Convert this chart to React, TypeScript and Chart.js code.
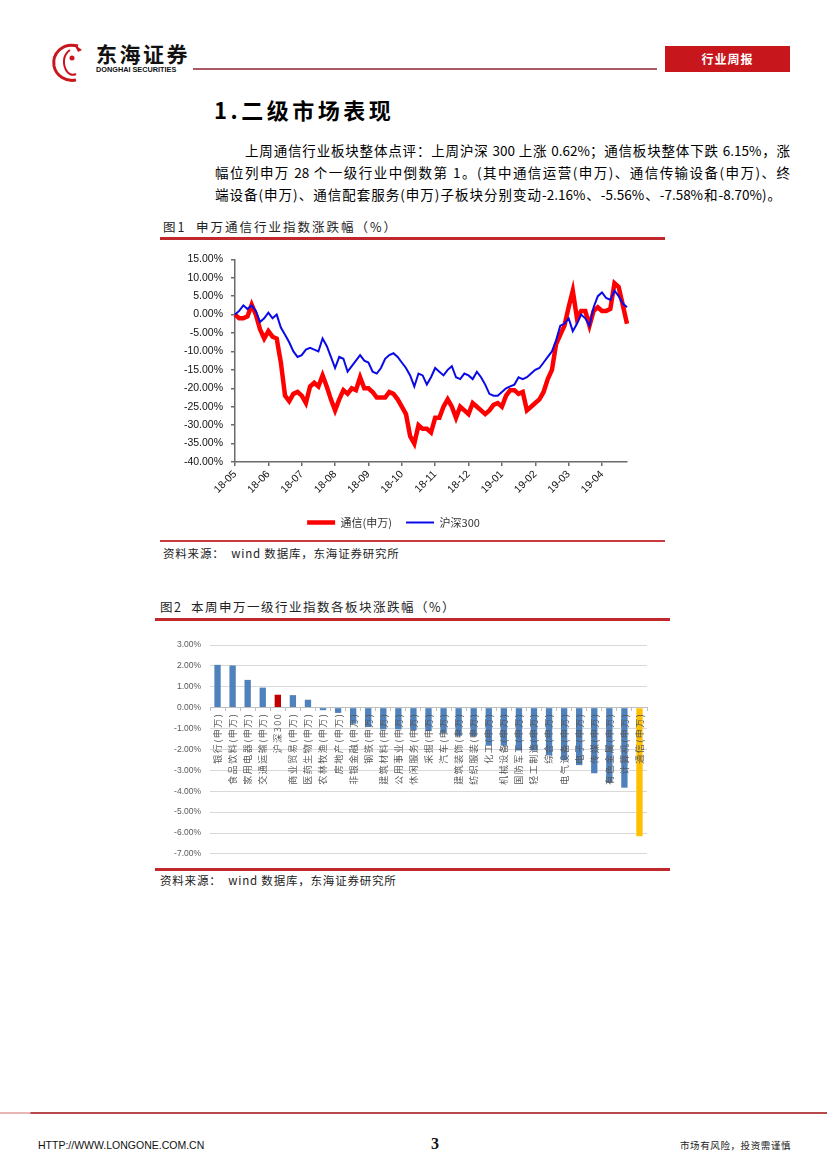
import React, { useEffect, useRef } from 'react';
import { Chart, registerables } from 'chart.js';

Chart.register(...registerables);

// ---------- Figure 1 data ----------
const monthLabels = ['18-05', '18-06', '18-07', '18-08', '18-09', '18-10', '18-11', '18-12', '19-01', '19-02', '19-03', '19-04'];
const pointsPerMonth = 8;

const telecomSeries = [
  0, -1, -1, -0.5, 2.7, 0, -4, -6.5, -4.5, -6,
  -6.5, -13, -22, -23.5, -21.5, -21, -22, -24, -19.5, -18.5,
  -19.5, -16.5, -19.5, -23, -26, -23, -20.5, -21.5, -20, -20.5,
  -17, -20, -20, -21, -22.5, -22.5, -22.5, -21, -21.5, -23,
  -25, -27, -33, -35, -30, -31, -31, -32, -28, -28,
  -25, -23, -25, -28, -25, -26, -27, -24, -25, -26,
  -27, -26, -24.5, -24, -25, -22, -20.5, -20.5, -21.5, -21,
  -26, -25, -24, -23, -21, -17.5, -15, -8, -5.5, -3,
  2, 6.5, -1, 1, 1, -3, 1, 2, 1, 1,
  1.5, 8.5, 7.5, 2.5, -2.5,
];

const hs300Series = [
  0, 1, 2.5, 1.5, 2.5, 1, -2, -1, 0.5, -1,
  0, -3.5, -5.5, -7.5, -10, -11.5, -11, -9.5, -9, -9.5,
  -10, -6.5, -8.5, -11.5, -14.5, -11.5, -12, -15.5, -14, -12.5,
  -11, -12.5, -13, -15.5, -16, -14.5, -12, -11, -10.5, -11.5,
  -13, -14.5, -16.5, -19.5, -16, -16.5, -19, -17, -14.5, -15.5,
  -16.5, -15, -14, -17, -17.5, -16, -16.5, -17.5, -15.5, -17,
  -19, -21.5, -22, -22, -21, -20, -19.5, -19, -17, -17.5,
  -17, -16, -15, -14.5, -13, -11.5, -10, -7, -3, -2.5,
  -1, -4.5, -2.5, 0, -1, -3, 2, 5, 6, 4.5,
  4, 6.5, 5, 3, 2,
];

const lineYTicks = { min: -40, max: 15, step: 5 };

// ---------- Figure 2 data ----------
const industryNames = [
  '银行(申万)', '食品饮料(申万)', '家用电器(申万)', '交通运输(申万)', '沪深300',
  '商业贸易(申万)', '医药生物(申万)', '农林牧渔(申万)', '房地产(申万)', '非银金融(申万)',
  '钢铁(申万)', '建筑材料(申万)', '公用事业(申万)', '休闲服务(申万)', '采掘(申万)',
  '汽车(申万)', '建筑装饰(申万)', '纺织服装(申万)', '化工(申万)', '机械设备(申万)',
  '国防军工(申万)', '轻工制造(申万)', '综合(申万)', '电气设备(申万)', '电子(申万)',
  '传媒(申万)', '有色金属(申万)', '计算机(申万)', '通信(申万)',
];

const weeklyChange = [
  2.05, 2.02, 1.33, 0.96, 0.62,
  0.6, 0.38, -0.12, -0.25, -0.77,
  -0.93, -1.04, -1.04, -1.08, -1.12,
  -1.22, -1.35, -1.38, -1.82, -1.82,
  -2.05, -2.05, -2.28, -2.52, -2.75,
  -3.14, -3.6, -3.83, -6.15,
];

const barYTicks = { min: -7, max: 3, step: 1 };

const CJK = '"Noto Sans CJK SC", "Noto Sans", sans-serif';
const LATIN = '"Liberation Sans", Arial, sans-serif';

function LineFigure() {
  const ref = useRef<HTMLCanvasElement | null>(null);
  useEffect(() => {
    if (!ref.current) return;
    const labels = telecomSeries.map((_, i) =>
      i % pointsPerMonth === 0 && monthLabels[i / pointsPerMonth] ? monthLabels[i / pointsPerMonth] : ''
    );
    const axisColor = '#6b6b6b';
    const chart = new Chart(ref.current, {
      type: 'line',
      data: {
        labels,
        datasets: [
          {
            label: '沪深300',
            data: hs300Series,
            borderColor: '#0a0ae6',
            backgroundColor: '#0a0ae6',
            borderWidth: 2,
            pointRadius: 0,
            tension: 0,
            pointStyle: 'line',
          },
          {
            label: '通信(申万)',
            data: telecomSeries,
            borderColor: '#ff0000',
            backgroundColor: '#ff0000',
            borderWidth: 4.5,
            pointRadius: 0,
            tension: 0,
            pointStyle: 'line',
          },
        ],
      },
      options: {
        animation: false,
        responsive: false,
        maintainAspectRatio: false,
        layout: { padding: { left: 0, right: 38, top: 7, bottom: 2 } },
        plugins: {
          tooltip: { enabled: false },
          legend: {
            position: 'bottom',
            reverse: true,
            labels: {
              usePointStyle: true,
              pointStyleWidth: 28,
              padding: 14,
              color: '#333',
              font: { family: CJK, size: 11 },
            },
          },
        },
        scales: {
          x: {
            type: 'category',
            afterFit: (s: any) => { s.height = 41; },
            grid: {
              display: true,
              drawOnChartArea: false,
              drawTicks: true,
              tickLength: 4,
              color: (ctx: any) => (labels[ctx.index] ? axisColor : 'rgba(0,0,0,0)'),
              tickColor: (ctx: any) => (labels[ctx.index] ? axisColor : 'rgba(0,0,0,0)'),
              lineWidth: 1.5,
            },
            border: { display: true, color: axisColor, width: 1.5 },
            ticks: {
              autoSkip: false,
              minRotation: 45,
              maxRotation: 45,
              padding: 2,
              color: '#111',
              font: { family: LATIN, size: 10.5 },
              callback: (_v: any, i: number) => labels[i],
            },
          },
          y: {
            min: lineYTicks.min,
            max: lineYTicks.max,
            afterFit: (s: any) => { s.width = 75; },
            grid: {
              display: true,
              drawOnChartArea: false,
              drawTicks: true,
              tickLength: 4,
              color: axisColor,
              lineWidth: 1.5,
            },
            border: { display: true, color: axisColor, width: 1.5 },
            ticks: {
              stepSize: lineYTicks.step,
              padding: 8,
              color: '#111',
              font: { family: LATIN, size: 10.5 },
              callback: (v: any) => Number(v).toFixed(2) + '%',
            },
          },
        },
      },
    });
    return () => chart.destroy();
  }, []);
  return <canvas ref={ref} width={505} height={295} style={{ width: 505, height: 295, display: 'block' }} />;
}

// widen the spacing of the rotated category labels (drawn after the bars)
const labelSpacingPlugin = {
  id: 'labelSpacing',
  afterDatasetsDraw(chart: any) {
    (chart.ctx as any).letterSpacing = '1.5px';
  },
  afterDraw(chart: any) {
    (chart.ctx as any).letterSpacing = '0px';
  },
};

function BarFigure() {
  const ref = useRef<HTMLCanvasElement | null>(null);
  useEffect(() => {
    if (!ref.current) return;
    const colors = industryNames.map((n) =>
      n === '沪深300' ? '#c00000' : n === '通信(申万)' ? '#ffc000' : '#4f81bd'
    );
    const chart = new Chart(ref.current, {
      type: 'bar',
      data: {
        labels: industryNames,
        datasets: [
          {
            label: '涨跌幅',
            data: weeklyChange,
            backgroundColor: colors,
            borderWidth: 0,
            barPercentage: 0.42,
            categoryPercentage: 1,
          },
        ],
      },
      plugins: [labelSpacingPlugin],
      options: {
        animation: false,
        responsive: false,
        maintainAspectRatio: false,
        layout: { padding: { left: 0, right: 23, top: 20, bottom: 3 } },
        plugins: { legend: { display: false }, tooltip: { enabled: false } },
        scales: {
          x: {
            type: 'category',
            position: { y: 0 } as any,
            afterFit: (s: any) => { s.height = 0; },
            grid: {
              display: true,
              drawOnChartArea: false,
              drawTicks: true,
              tickLength: 3,
              color: '#bfbfbf',
              offset: true,
            },
            border: { display: true, color: '#bfbfbf', z: 1 } as any,
            ticks: {
              autoSkip: false,
              minRotation: 90,
              maxRotation: 90,
              padding: 2,
              z: 1,
              color: '#595959',
              font: { family: CJK, size: 9 },
            },
          },
          y: {
            min: barYTicks.min,
            max: barYTicks.max,
            afterFit: (s: any) => { s.width = 55; },
            grid: { color: '#d9d9d9', drawTicks: false, lineWidth: 1 },
            border: { display: false },
            ticks: {
              stepSize: barYTicks.step,
              padding: 9,
              color: '#595959',
              font: { family: LATIN, size: 8.5 },
              callback: (v: any) => Number(v).toFixed(2) + '%',
            },
          },
        },
      },
    });
    return () => chart.destroy();
  }, []);
  return <canvas ref={ref} width={515} height={243} style={{ width: 515, height: 243, display: 'block' }} />;
}

const abs = (left: number, top: number, extra: React.CSSProperties = {}): React.CSSProperties => ({
  position: 'absolute',
  left,
  top,
  ...extra,
});

export default function App() {
  const para: React.CSSProperties = {
    fontFamily: CJK,
    fontSize: 13.5,
    lineHeight: '22px',
    color: '#000',
    whiteSpace: 'nowrap',
    textAlign: 'justify',
    textAlignLast: 'justify' as any,
  };
  const caption: React.CSSProperties = {
    fontFamily: CJK,
    fontSize: 12.5,
    letterSpacing: 2,
    color: '#222',
    lineHeight: '16px',
    whiteSpace: 'nowrap',
  };
  const source: React.CSSProperties = {
    fontFamily: CJK,
    fontSize: 11.5,
    letterSpacing: 0.8,
    color: '#222',
    lineHeight: '16px',
    whiteSpace: 'nowrap',
  };
  return (
    <div style={{ position: 'absolute', left: 0, top: 0, width: 827, height: 1170, background: '#fff', overflow: 'hidden' }}>
      {/* header */}
      <svg style={abs(48, 40)} width={46} height={44} viewBox="0 0 46 44">
        <path d="M30 6 C14 2 4 14 6 26 C8 36 18 42 28 40" stroke="#c8161d" strokeWidth={3} fill="none" />
        <path d="M22 10 C16 14 14 22 18 30 C20 34 24 36 28 34" stroke="#c8161d" strokeWidth={2} fill="none" />
        <path d="M26 4 L34 10 L30 12 Z" fill="#c8161d" />
        <circle cx={24} cy={18} r={2.5} fill="#c8161d" />
      </svg>
      <div style={abs(96, 41, { fontFamily: CJK, fontWeight: 700, fontSize: 21, letterSpacing: 2.5, color: '#111', lineHeight: '24px', whiteSpace: 'nowrap' })}>东海证券</div>
      <div style={abs(96, 65, { fontFamily: LATIN, fontWeight: 700, fontSize: 7.3, color: '#111', lineHeight: '9px', whiteSpace: 'nowrap' })}>DONGHAI SECURITIES</div>
      <div style={abs(193, 68, { width: 464, height: 1.5, background: '#a85a66' })} />
      <div style={abs(665, 46, { width: 125, height: 26, background: '#c8161d', color: '#fff', fontFamily: CJK, fontWeight: 700, fontSize: 12, lineHeight: '26px', textAlign: 'center', letterSpacing: 1 })}>行业周报</div>

      {/* title */}
      <div style={abs(214, 95, { fontFamily: CJK, fontWeight: 700, fontSize: 22, letterSpacing: 3.5, lineHeight: '28px', color: '#000', whiteSpace: 'nowrap' })}>1.二级市场表现</div>

      {/* paragraph */}
      <div style={abs(245, 139, { ...para, width: 545 })}>上周通信行业板块整体点评：上周沪深 300 上涨 0.62%；通信板块整体下跌 6.15%，涨</div>
      <div style={abs(215, 161, { ...para, width: 575 })}>幅位列申万 28 个一级行业中倒数第 1。(其中通信运营(申万)、通信传输设备(申万)、终</div>
      <div style={abs(215, 183, { ...para, width: 566 })}>端设备(申万)、通信配套服务(申万)子板块分别变动-2.16%、-5.56%、-7.58%和-8.70%)。</div>

      {/* figure 1 */}
      <div style={abs(163, 219, caption)}>图1&nbsp;&nbsp;申万通信行业指数涨跌幅（%）</div>
      <div style={abs(160, 237, { width: 505, height: 2.5, background: '#c0282d' })} />
      <div style={abs(160, 245)}>
        <LineFigure />
      </div>
      <div style={abs(160, 540, { width: 505, height: 1.5, background: '#c83a3e' })} />
      <div style={abs(163, 545, source)}>资料来源：&nbsp;&nbsp;wind 数据库，东海证券研究所</div>

      {/* figure 2 */}
      <div style={abs(160, 599, { ...caption, letterSpacing: 1.5 })}>图2&nbsp;&nbsp;本周申万一级行业指数各板块涨跌幅（%）</div>
      <div style={abs(155, 618, { width: 515, height: 2.5, background: '#c0282d' })} />
      <div style={abs(155, 625)}>
        <BarFigure />
      </div>
      <div style={abs(155, 868, { width: 515, height: 2.5, background: '#c0282d' })} />
      <div style={abs(160, 872, source)}>资料来源：&nbsp;&nbsp;wind 数据库，东海证券研究所</div>

      {/* footer */}
      <div style={abs(0, 1112, { width: 827, height: 1.5, background: 'linear-gradient(to right, #e8b4b4 0px, #e8b4b4 30px, #b8484c 31px, #b8484c 100%)' })} />
      <div style={abs(38, 1138, { fontFamily: '"Liberation Sans Narrow", "Liberation Sans", Arial, sans-serif', fontSize: 10.5, color: '#111', lineHeight: '14px', whiteSpace: 'nowrap' })}>HTTP://WWW.LONGONE.COM.CN</div>
      <div style={abs(431, 1135, { fontFamily: '"Liberation Serif", serif', fontWeight: 700, fontSize: 16, color: '#111', lineHeight: '18px' })}>3</div>
      <div style={abs(680, 1139, { fontFamily: CJK, fontSize: 9.5, letterSpacing: 0.6, color: '#222', lineHeight: '13px', whiteSpace: 'nowrap' })}>市场有风险，投资需谨慎</div>
    </div>
  );
}
